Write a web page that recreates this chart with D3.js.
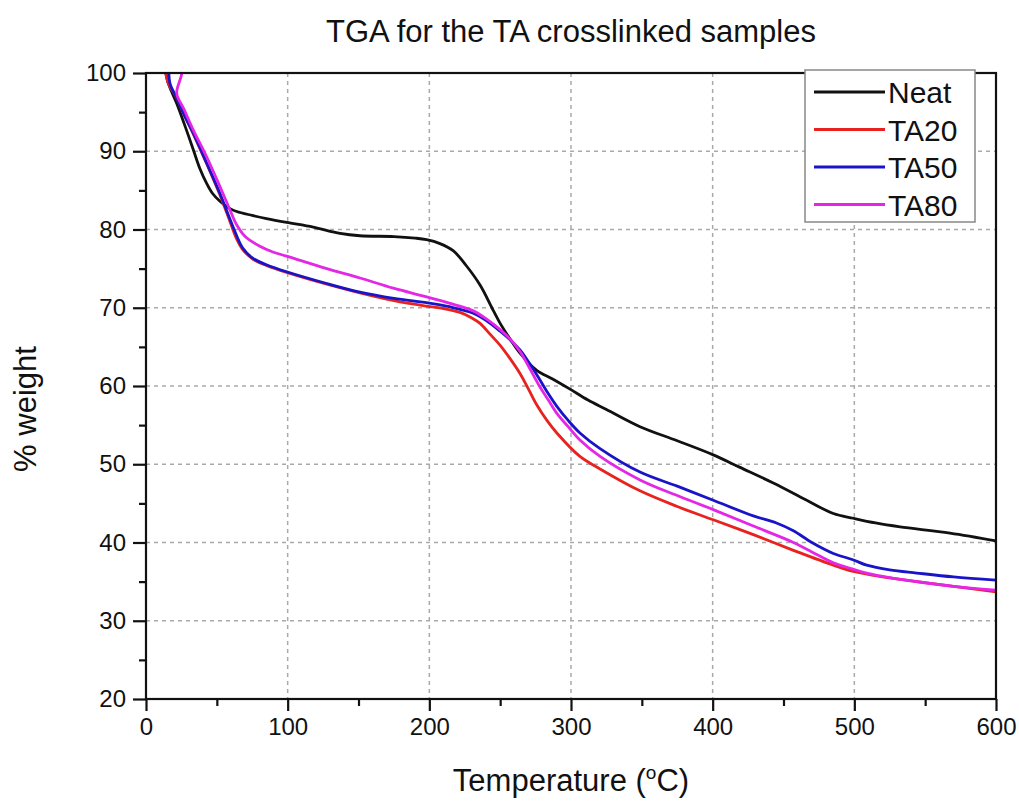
<!DOCTYPE html>
<html><head><meta charset="utf-8">
<script src="https://cdn.jsdelivr.net/npm/d3@7"></script>
<style>body{margin:0;background:#fff}svg{display:block}text{font-family:"Liberation Sans",Arial,sans-serif;fill:#111}</style>
</head><body>
<svg id="c" width="1019" height="802"></svg>
<script>
const title = "TGA for the TA crosslinked samples";
const xLabel = "Temperature (";
const yLabel = "% weight";
const xTicks = [0,100,200,300,400,500,600];
const yTicks = [20,30,40,50,60,70,80,90,100];
const seriesNames = ["Neat","TA20","TA50","TA80"];
const seriesColors = ["#111111","#e8231f","#1a14c8","#e426e6"];

const neat = [[13.5,100.5],[15.5,98.8],[21.7,96.1],[27,93.5],[33.4,90.2],[38,87.8],[42.8,85.9],[47,84.6],[52.2,83.6],[58,82.8],[64,82.3],[75,81.8],[85,81.4],[99.3,80.9],[118,80.3],[137,79.5],[151,79.2],[175,79.1],[190,78.9],[198,78.7],[207.5,78.2],[216.8,77.3],[226,75.4],[235.8,72.9],[245,69.7],[250,68.0],[257,66.0],[264,64.2],[275.8,62.0],[287,60.9],[299.3,59.6],[312,58.2],[325,57.0],[348.7,54.8],[375,53.0],[400.4,51.2],[419.3,49.6],[442.8,47.6],[466.4,45.4],[485.2,43.7],[499.3,43.1],[515,42.5],[532.3,42.0],[567.5,41.2],[600,40.2]];
const ta20 = [[13.5,100.5],[15.5,98.8],[21.7,96.8],[27,94.6],[33.4,92.2],[42.8,88.4],[52.2,84.4],[59.3,81.0],[64,78.8],[68,77.5],[75.6,76.2],[85,75.4],[99.3,74.5],[127.6,73.0],[151,71.9],[175,70.9],[198,70.2],[210,69.9],[221.6,69.4],[230,68.7],[235.8,68.0],[243,66.6],[250,65.2],[257,63.5],[264,61.6],[270,59.6],[275.8,57.6],[283,55.6],[290,54.0],[306.3,51.0],[320.5,49.4],[348.7,46.6],[375,44.6],[400.4,42.9],[428.7,41.0],[457,39.0],[485.2,37.1],[499.3,36.3],[520,35.6],[544,35.0],[570,34.4],[600,33.7]];
const ta50 = [[16,101],[17,98.6],[21.7,96.8],[27,94.6],[33.4,92.3],[42.8,88.5],[52.2,84.6],[59.3,81.3],[64,79.2],[68,77.7],[75.6,76.3],[85,75.5],[99.3,74.6],[127.6,73.1],[151,72.0],[175,71.2],[200,70.6],[215,70.1],[231,69.3],[240,68.4],[250,67.0],[257,65.9],[264,64.6],[271,62.8],[278,60.8],[284,59.0],[290,57.4],[298,55.6],[306.3,54.0],[320.5,52.0],[348.7,49.0],[375,47.2],[400.4,45.4],[428.7,43.4],[445,42.5],[457,41.5],[470,40.0],[485.2,38.6],[499,37.8],[508.7,37.1],[525,36.5],[544,36.1],[570,35.6],[600,35.2]];
const ta80 = [[26,101],[25,99.7],[21.7,97.4],[27,95.3],[33.4,92.7],[42.8,89.3],[52.2,85.5],[59.3,82.5],[64,80.6],[70,79.1],[80,77.9],[90,77.1],[99.3,76.6],[127.6,75.0],[151,73.8],[174.6,72.5],[198,71.4],[221.6,70.2],[231,69.6],[240,68.6],[250,67.2],[257,66.0],[264,64.4],[271,62.2],[278,59.9],[284,58.2],[290,56.5],[298,54.8],[306.3,53.1],[320.5,51.0],[348.7,48.0],[375,46.0],[400.4,44.2],[428.7,42.1],[457,40.0],[470,38.8],[485.2,37.4],[499,36.6],[508.7,36.1],[525,35.5],[544,35.0],[570,34.4],[600,33.9]];
const seriesData = [neat, ta20, ta50, ta80];

const L=146, R=996, T=73, B=699;
const svg = d3.select("#c");
const x = d3.scaleLinear().domain([0,600]).range([L,R]);
const y = d3.scaleLinear().domain([20,100]).range([B,T]);

// grid
const g = svg.append("g");
g.selectAll(".gx").data(xTicks.filter(d=>d>0&&d<600)).join("line")
  .attr("x1",d=>x(d)).attr("x2",d=>x(d)).attr("y1",T).attr("y2",B)
  .attr("stroke","#aaa").attr("stroke-width",1.5).attr("stroke-dasharray","4,4");
g.selectAll(".gy").data(yTicks.filter(d=>d>20&&d<100)).join("line")
  .attr("y1",d=>y(d)).attr("y2",d=>y(d)).attr("x1",L).attr("x2",R)
  .attr("stroke","#aaa").attr("stroke-width",1.5).attr("stroke-dasharray","4,4");

// clip
svg.append("clipPath").attr("id","clip").append("rect").attr("x",L).attr("y",T).attr("width",R-L).attr("height",B-T);

const line = d3.line().x(d=>x(d[0])).y(d=>y(d[1])).curve(d3.curveCatmullRom.alpha(0.5));
svg.append("g").attr("clip-path","url(#clip)").selectAll("path").data(seriesData).join("path")
  .attr("d",line).attr("fill","none").attr("stroke",(d,i)=>seriesColors[i]).attr("stroke-width",2.8)
  .attr("stroke-linejoin","round");

// axes
const xMinor = d3.range(50,600,100);
const yMinor = d3.range(25,100,10);
const xa = svg.append("g").attr("transform",`translate(0,${B})`)
  .call(d3.axisBottom(x).tickValues(xTicks).tickSize(12).tickPadding(7).tickFormat(d3.format("d")));
const ya = svg.append("g").attr("transform",`translate(${L},0)`)
  .call(d3.axisLeft(y).tickValues(yTicks).tickSize(13).tickPadding(7).tickFormat(d3.format("d")));
[xa,ya].forEach(a=>{
  a.select(".domain").remove();
  a.selectAll(".tick line").attr("stroke","#111").attr("stroke-width",2.2);
  a.selectAll(".tick text").style("font-size","24px").attr("fill","#111");
});
svg.append("g").attr("transform",`translate(0,${B})`)
  .call(d3.axisBottom(x).tickValues(xMinor).tickSize(7).tickFormat(""))
  .call(a=>{a.select(".domain").remove();a.selectAll("line").attr("stroke","#111").attr("stroke-width",2.2);});
svg.append("g").attr("transform",`translate(${L},0)`)
  .call(d3.axisLeft(y).tickValues(yMinor).tickSize(7).tickFormat(""))
  .call(a=>{a.select(".domain").remove();a.selectAll("line").attr("stroke","#111").attr("stroke-width",2.2);});

// frame
svg.append("rect").attr("x",L).attr("y",T).attr("width",R-L).attr("height",B-T)
  .attr("fill","none").attr("stroke","#111").attr("stroke-width",2.2);

// title & labels
svg.append("text").attr("x",571).attr("y",42).attr("text-anchor","middle").style("font-size","31px").text(title);
const xl = svg.append("text").attr("x",571).attr("y",791).attr("text-anchor","middle").style("font-size","31px");
xl.append("tspan").text(xLabel);
xl.append("tspan").attr("dy",-12).style("font-size","19px").text("o");
xl.append("tspan").attr("dy",12).text("C)");
svg.append("text").attr("transform","translate(36,409) rotate(-90)").attr("text-anchor","middle").style("font-size","31px").text(yLabel);

// legend
const lg = svg.append("g");
lg.append("rect").attr("x",805).attr("y",70).attr("width",170).attr("height",152)
  .attr("fill","#fff").attr("stroke","#888").attr("stroke-width",1.5);
const rows = lg.selectAll(".row").data(seriesNames).join("g")
  .attr("transform",(d,i)=>`translate(0,${92+i*37.5})`);
rows.append("line").attr("x1",814).attr("x2",885).attr("y1",0).attr("y2",0)
  .attr("stroke",(d,i)=>seriesColors[i]).attr("stroke-width",2.8);
rows.append("text").attr("x",888).attr("y",11).style("font-size","30px").text(d=>d);
</script>
</body></html>
